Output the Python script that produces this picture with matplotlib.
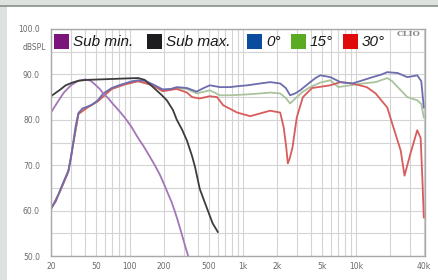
"""Frequency response chart, sub and satellite curves"""
import matplotlib
matplotlib.use('Agg')
import matplotlib.pyplot as plt
from matplotlib.patches import Rectangle
from matplotlib.ticker import FixedLocator, NullFormatter

# --- data -------------------------------------------------------------
sub_min_f = [20, 23, 26, 30, 35, 40, 45, 49, 54, 58, 64, 69, 80, 90, 104,
             118, 132, 145, 166, 185, 203, 220, 233, 250, 266, 290, 310, 328]
sub_min_db = [81.6, 84.0, 86.0, 87.6, 88.6, 88.9, 88.6, 87.8, 86.8, 85.8,
              84.8, 83.8, 82.0, 80.5, 78.3, 76.0, 74.2, 72.5, 70.0, 67.8,
              65.5, 63.4, 62.0, 59.8, 57.7, 54.5, 52.0, 50.0]

sub_max_f = [20, 24, 27, 31, 35, 42, 55, 70, 90, 118, 135, 160, 190, 212,
             240, 260, 290, 320, 355, 378, 415, 460, 500, 540, 600]
sub_max_db = [85.2, 86.6, 87.6, 88.2, 88.6, 88.8, 88.9, 89.0, 89.1, 89.2,
              88.8, 87.2, 85.5, 84.3, 82.2, 80.0, 77.8, 75.4, 72.0, 69.5,
              64.8, 61.8, 59.4, 57.2, 55.3]

f_0 = [20, 22, 24, 26, 28.5, 30, 31.5, 33, 35, 38, 42, 46, 52, 58, 69, 80,
       90, 105, 118, 135, 160, 195, 230, 260, 320, 390, 450, 510, 625, 770,
       900, 1100, 1420, 1750, 2140, 2400, 2620, 2900, 3220, 3600, 3950,
       4400, 4850, 5950, 7300, 9300, 11500, 14100, 17000, 19000, 23500,
       28600, 32000, 35000, 38000, 40000]
db_0 = [60.5, 62.0, 64.4, 66.5, 68.8, 71.5, 75.0, 78.5, 81.5, 82.5, 82.9,
        83.3, 84.3, 85.8, 87.0, 87.6, 88.0, 88.5, 88.7, 88.6, 87.8, 86.7,
        86.8, 87.2, 87.0, 86.2, 87.0, 87.6, 87.2, 87.2, 87.4, 87.6, 88.0,
        88.3, 88.0, 87.0, 85.4, 85.8, 86.5, 87.5, 88.3, 89.2, 89.8, 89.4,
        88.3, 88.0, 88.7, 89.4, 90.0, 90.5, 90.3, 89.4, 89.6, 89.8, 88.5,
        82.7]

f_15 = [20, 24, 28.5, 31.5, 35, 42, 52, 69, 90, 118, 160, 195, 260, 320,
        390, 510, 625, 770, 1100, 1420, 1750, 2140, 2400, 2620, 3000, 3400,
        3950, 4850, 5950, 7000, 8950, 11500, 15000, 19000, 21000, 23500,
        28600, 35000, 38000, 40000]
db_15 = [60.3, 64.2, 68.6, 74.8, 81.3, 82.7, 84.1, 86.8, 87.8, 88.5, 87.6,
         86.3, 87.0, 86.8, 85.8, 86.5, 85.4, 85.4, 85.6, 85.8, 86.0, 85.8,
         84.8, 83.6, 85.0, 86.2, 87.2, 88.2, 88.7, 87.2, 87.6, 88.0, 88.3,
         89.2, 88.5, 87.2, 85.0, 84.3, 83.5, 80.5]

f_30 = [20, 24, 28.5, 31.5, 35, 42, 52, 69, 90, 118, 160, 195, 260, 320,
        355, 415, 510, 590, 670, 890, 1160, 1420, 1740, 2140, 2300, 2420,
        2500, 2600, 2750, 3000, 3400, 4100, 5950, 7300, 9300, 12500, 15000,
        19000, 21000, 25000, 27000, 30500, 35000, 37500, 39000, 40000]
db_30 = [60.3, 64.2, 68.6, 74.8, 81.3, 82.7, 84.1, 86.8, 87.8, 88.5, 87.6,
         86.3, 86.8, 86.0, 85.0, 84.7, 85.2, 85.0, 83.2, 81.6, 80.8, 81.4,
         82.0, 81.6, 78.3, 74.0, 70.4, 71.5, 73.9, 80.5, 85.0, 87.0, 87.6,
         88.3, 88.0, 87.2, 85.8, 82.7, 79.2, 73.2, 67.7, 72.6, 77.7, 76.0,
         66.0, 58.5]

x_ticks = [20, 50, 100, 200, 500, 1000, 2000, 5000, 10000, 40000]
x_tick_labels = ['20', '50', '100', '200', '500', '1k', '2k', '5k', '10k', '40k']
y_ticks = [50, 60, 70, 80, 90, 100]
y_tick_labels = ['50.0', '60.0', '70.0', '80.0', '90.0', '100.0']

legend_labels = ['Sub min.', 'Sub max.', '0°', '15°', '30°']
legend_colors = ['#7b157b', '#1d1d1f', '#0a4c9e', '#5aaa24', '#e10a0a']

# --- figure -----------------------------------------------------------
W, H = 438, 280
fig = plt.figure(figsize=(W / 100, H / 100), dpi=100, facecolor='#dde2de')

# white card + grey top strip
fig.patches.append(Rectangle((7 / W, 0), 1 - 7 / W, 274 / H,
                             transform=fig.transFigure, facecolor='white',
                             edgecolor='none', zorder=-5))
fig.add_artist(plt.Line2D([0, 1], [274.5 / H, 274.5 / H],
                          transform=fig.transFigure, color='#8a8f8b', lw=1.2))

ax = fig.add_axes([51 / W, 24 / H, (425 - 51) / W, (256 - 29) / H])
ax.set_facecolor('white')
ax.set_xscale('log')
ax.set_xlim(20, 41000)
ax.set_ylim(50, 100)

# grid
minor_x = [m * 10 ** e for e in range(1, 5) for m in range(1, 10)]
minor_x = [v for v in minor_x if 20 <= v <= 40000]
ax.xaxis.set_minor_locator(FixedLocator(minor_x))
ax.xaxis.set_minor_formatter(NullFormatter())
ax.set_xticks(x_ticks)
ax.set_xticklabels(x_tick_labels)
ax.set_yticks(y_ticks)
ax.set_yticklabels(y_tick_labels)
ax.yaxis.set_minor_locator(FixedLocator([55, 65, 75, 85, 95]))
ax.grid(True, which='both', color='#d4d4d4', lw=0.8)
ax.set_axisbelow(True)
ax.tick_params(which='both', length=0)
ax.tick_params(axis='x', labelsize=5.5, labelcolor='#6a6a6a', pad=4)
ax.tick_params(axis='y', labelsize=5.5, labelcolor='#6a6a6a', pad=8)
for spine in ax.spines.values():
    spine.set_color('#a8a8a8')
    spine.set_linewidth(1.0)

# curves
ax.plot(f_15, db_15, color='#a9c39c', lw=1.3)
ax.plot(f_30, db_30, color='#d85c5c', lw=1.3)
ax.plot(f_0, db_0, color='#6c6cae', lw=1.3)
ax.plot(sub_min_f, sub_min_db, color='#a276b8', lw=1.3)
ax.plot(sub_max_f, sub_max_db, color='#3c3c3c', lw=1.3)

# y unit label
fig.text(46 / W, 1 - 47 / H, 'dBSPL', fontsize=5.5, color='#6a6a6a',
         ha='right', va='center')

# CLIO mark
fig.text(409 / W, 1 - 34 / H, 'CLIO', fontsize=6, color='#8a8a8a',
         fontweight='bold', family='DejaVu Serif', ha='center', va='center')

# legend (manual: coloured squares + italic labels)
square_x = [54, 147, 247, 291, 343]
for px, lab, col in zip(square_x, legend_labels, legend_colors):
    fig.patches.append(Rectangle((px / W, 1 - 49 / H), 15 / W, 15 / H,
                                 transform=fig.transFigure, facecolor=col,
                                 edgecolor='none', zorder=5))
    fig.text((px + 19) / W, 1 - 42 / H, lab, fontsize=11, style='italic',
             family='Liberation Sans', color='#1a1a1a', ha='left',
             va='center', zorder=5)

plt.savefig('out.png', dpi=100, facecolor=fig.get_facecolor())
plt.close()
